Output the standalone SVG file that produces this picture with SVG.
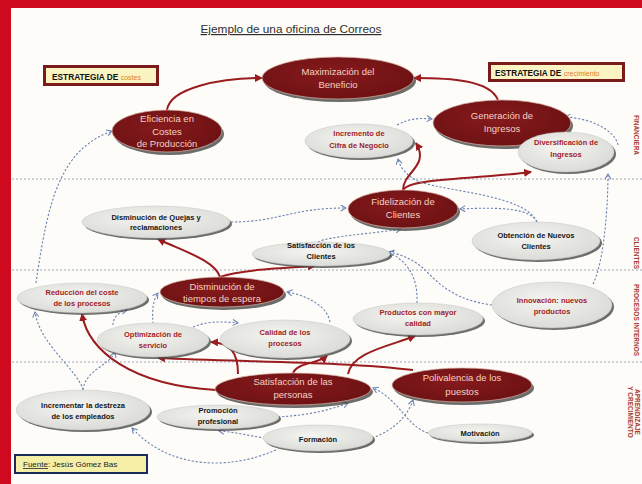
<svg xmlns="http://www.w3.org/2000/svg" width="642" height="484" viewBox="0 0 642 484">
<style>
.lbl{font-family:"Liberation Sans",Arial,sans-serif;text-anchor:middle}
.tD{font-size:9.5px;fill:#f3d2c4}
.tB{font-size:7.5px;font-weight:bold;fill:#161616}
.tR{font-size:7.5px;font-weight:bold;fill:#a2221f}
.dk{fill:url(#gDark);stroke:#d9b3a6;stroke-width:0.7}
.lt{fill:url(#gLight);stroke:#c4c4c0;stroke-width:0.5}
.sh{fill:#474747;opacity:0.8}
.sep{stroke:#9ea8b8;stroke-width:1;stroke-dasharray:2 2}
.r{fill:none;stroke:#9a1c1f;stroke-width:2;marker-end:url(#aR)}
.b{fill:none;stroke:#6b83b2;stroke-width:1.1;stroke-dasharray:2.2 1.8;marker-end:url(#aB)}
.side{font-family:"Liberation Sans",Arial,sans-serif;font-size:6.5px;font-weight:bold;fill:#a83a30;text-anchor:middle}
</style>
<defs>
<radialGradient id="gDark" cx="0.45" cy="0.4" r="0.65">
<stop offset="0" stop-color="#861a1c"/>
<stop offset="1" stop-color="#6c1113"/>
</radialGradient>
<radialGradient id="gLight" cx="0.45" cy="0.4" r="0.65">
<stop offset="0" stop-color="#f4f4f1"/>
<stop offset="1" stop-color="#d9d9d5"/>
</radialGradient>
<marker id="aR" viewBox="0 0 8 8" refX="7" refY="4" markerWidth="8" markerHeight="8" markerUnits="userSpaceOnUse" orient="auto">
<path d="M0,0 L8,4 L0,8 z" fill="#9a1c1f"/>
</marker>
<marker id="aB" viewBox="0 0 8 8" refX="7" refY="4" markerWidth="7" markerHeight="7" markerUnits="userSpaceOnUse" orient="auto">
<path d="M1,0.5 L7,4 L1,7.5" fill="none" stroke="#6b83b2" stroke-width="1.2"/>
</marker>
</defs>

<rect x="0" y="0" width="642" height="484" fill="#fdfcf8"/>
<rect x="0" y="0" width="642" height="8" fill="#cf0a1f"/>
<rect x="0" y="0" width="11" height="484" fill="#cf0a1f"/>

<g id="separators">
<line class="sep" x1="12" y1="179" x2="642" y2="179"/>
<line class="sep" x1="12" y1="270" x2="642" y2="270"/>
<line class="sep" x1="12" y1="362" x2="642" y2="362"/>
</g>

<g id="title">
<text x="291" y="33" font-family="Liberation Sans, Arial, sans-serif" font-size="11.8" fill="#2e2e2e" text-anchor="middle" text-decoration="underline">Ejemplo de una oficina de Correos</text>
</g>

<g id="perspectives">
<text class="side" transform="translate(636,135) rotate(90)" dy="2">FINANCIERA</text>
<text class="side" transform="translate(636,253) rotate(90)" dy="2">CLIENTES</text>
<text class="side" transform="translate(636,320) rotate(90)" dy="2">PROCESOS INTERNOS</text>
<text class="side" transform="translate(633,412) rotate(90)"><tspan x="0" y="-2">APRENDIZAJE</tspan><tspan x="0" y="5.5">Y CRECIMIENTO</tspan></text>
</g>

<g id="box-costes">
<rect x="43" y="65" width="116" height="21" fill="#7a1a1a"/>
<rect x="46" y="68" width="110" height="15" fill="#fbf3c2"/>
<text x="52" y="79.5" font-family="Liberation Sans, Arial, sans-serif" font-size="8.3" font-weight="bold" fill="#111">ESTRATEGIA DE <tspan font-size="7" font-weight="normal" fill="#e0801e">costes</tspan></text>
</g>
<g id="box-crecimiento">
<rect x="488" y="62" width="137" height="20" fill="#7a1a1a"/>
<rect x="491" y="65" width="131" height="14" fill="#fbf3c2"/>
<text x="495" y="75.5" font-family="Liberation Sans, Arial, sans-serif" font-size="8.3" font-weight="bold" fill="#111">ESTRATEGIA DE <tspan font-size="7" font-weight="normal" fill="#e0801e">crecimiento</tspan></text>
</g>
<g id="box-fuente">
<rect x="15" y="455" width="132" height="18" fill="#f4eea6" stroke="#1c2b5e" stroke-width="2"/>
<text x="23" y="467" font-family="Liberation Sans, Arial, sans-serif" font-size="8" fill="#222"><tspan text-decoration="underline">Fuente</tspan>: Jesús Gómez Bas</text>
</g>

<g id="connectors">
<path class="r" d="M167,110 C170,88 220,78 262,78"/>
<path class="r" d="M498,100 C490,80 450,78 414,78"/>
<path class="r" d="M403,190 C403,172 430,166 416,143"/>
<path class="r" d="M403,190 C410,178 470,180 531,172"/>
<path class="r" d="M220,277 C215,260 180,250 158,239"/>
<path class="r" d="M220,277 C240,270 280,268 315,266"/>
<path class="r" d="M238,374 C238,352 230,343 211,342"/>
<path class="r" d="M293,373 C298,362 318,364 327,356"/>
<path class="r" d="M348,374 C352,352 390,346 415,336"/>
<path class="r" d="M413,370 C350,362 250,362 158,358"/>
<path class="r" d="M216,390 C130,385 88,350 82,314"/>

<path class="b" d="M36,283 C48,200 60,150 112,131"/>
<path class="b" d="M397,125 C410,118 420,118 432,119"/>
<path class="b" d="M618,145 C615,130 590,118 565,117"/>
<path class="b" d="M593,284 C605,260 608,200 608,174"/>
<path class="b" d="M537,222 C525,195 450,192 420,182 C408,177 400,168 398,159"/>
<path class="b" d="M537,222 C530,208 500,207 460,209"/>
<path class="b" d="M231,222 C280,222 290,208 346,208"/>
<path class="b" d="M318,242 C330,236 370,234 401,229"/>
<path class="b" d="M417,303 C418,280 410,262 388,252"/>
<path class="b" d="M492,305 C455,300 440,285 425,270 C415,260 400,254 389,252"/>
<path class="b" d="M113,325 C113,318 118,312 127,310"/>
<path class="b" d="M153,324 C152,310 153,300 158,293"/>
<path class="b" d="M193,327 C210,320 225,322 238,323"/>
<path class="b" d="M330,322 C327,305 305,295 287,292"/>
<path class="b" d="M83,390 C78,370 40,345 35,312"/>
<path class="b" d="M83,390 C85,370 110,365 115,352"/>
<path class="b" d="M278,417 C310,415 330,410 348,403"/>
<path class="b" d="M265,438 C250,436 235,432 219,431"/>
<path class="b" d="M276,450 C230,470 170,470 132,428"/>
<path class="b" d="M372,438 C395,430 408,415 413,400"/>
<path class="b" d="M428,433 C405,425 400,400 373,388"/>
</g>

<g id="n-max">
<ellipse class="sh" cx="340" cy="81" rx="76" ry="21"/>
<ellipse class="dk" cx="338" cy="78" rx="76" ry="21"/>
<text class="lbl tD" x="338" y="75">Maximización del</text>
<text class="lbl tD" x="338" y="87.5">Beneficio</text>
</g>
<g id="n-eficiencia">
<ellipse class="sh" cx="169" cy="134" rx="55" ry="21"/>
<ellipse class="dk" cx="167" cy="131" rx="55" ry="21"/>
<text class="lbl tD" x="167" y="122" font-size="9">Eficiencia en</text>
<text class="lbl tD" x="167" y="134.5" font-size="9">Costes</text>
<text class="lbl tD" x="167" y="147" font-size="9">de Producción</text>
</g>
<g id="n-generacion">
<ellipse class="sh" cx="504" cy="126" rx="69" ry="23"/>
<ellipse class="dk" cx="502" cy="123" rx="69" ry="23"/>
<text class="lbl tD" x="502" y="118.5">Generación de</text>
<text class="lbl tD" x="502" y="131.5">Ingresos</text>
</g>
<g id="n-incremento">
<ellipse class="sh" cx="361" cy="143" rx="54" ry="17"/>
<ellipse class="lt" cx="359" cy="141" rx="54" ry="17"/>
<text class="lbl tR" x="359" y="136">Incremento de</text>
<text class="lbl tR" x="359" y="147.5">Cifra de Negocio</text>
</g>
<g id="n-diversificacion">
<ellipse class="sh" cx="568" cy="154" rx="48" ry="20"/>
<ellipse class="lt" cx="566" cy="152" rx="48" ry="20"/>
<text class="lbl tR" x="566" y="145">Diversificación de</text>
<text class="lbl tR" x="566" y="157">Ingresos</text>
</g>
<g id="n-fidelizacion">
<ellipse class="sh" cx="405" cy="212" rx="55" ry="19"/>
<ellipse class="dk" cx="403" cy="209" rx="55" ry="19"/>
<text class="lbl tD" x="403" y="205">Fidelización de</text>
<text class="lbl tD" x="403" y="218">Clientes</text>
</g>
<g id="n-quejas">
<ellipse class="sh" cx="158" cy="224" rx="74" ry="16"/>
<ellipse class="lt" cx="156" cy="222" rx="74" ry="16"/>
<text class="lbl tB" x="156" y="219.5">Disminución de Quejas y</text>
<text class="lbl tB" x="156" y="230">reclamaciones</text>
</g>
<g id="n-satclientes">
<ellipse class="sh" cx="323" cy="256" rx="69" ry="12"/>
<ellipse class="lt" cx="321" cy="254" rx="69" ry="12"/>
<text class="lbl tB" x="321" y="248">Satisfacción de los</text>
<text class="lbl tB" x="321" y="259">Clientes</text>
</g>
<g id="n-obtencion">
<ellipse class="sh" cx="538" cy="243" rx="64" ry="19"/>
<ellipse class="lt" cx="536" cy="241" rx="64" ry="19"/>
<text class="lbl tB" x="536" y="238">Obtención de Nuevos</text>
<text class="lbl tB" x="536" y="249">Clientes</text>
</g>
<g id="n-disminucion">
<ellipse class="sh" cx="224" cy="295" rx="62" ry="15"/>
<ellipse class="dk" cx="222" cy="292" rx="62" ry="15"/>
<text class="lbl tD" x="222" y="290">Disminución de</text>
<text class="lbl tD" x="222" y="301.5">tiempos de espera</text>
</g>
<g id="n-reduccion">
<ellipse class="sh" cx="84" cy="300" rx="65" ry="15"/>
<ellipse class="lt" cx="82" cy="298" rx="65" ry="15"/>
<text class="lbl tR" x="82" y="295">Reducción del coste</text>
<text class="lbl tR" x="82" y="305.5">de los procesos</text>
</g>
<g id="n-innovacion">
<ellipse class="sh" cx="554" cy="307" rx="60" ry="23"/>
<ellipse class="lt" cx="552" cy="305" rx="60" ry="23"/>
<text class="lbl tR" x="552" y="302.5">Innovación: nuevos</text>
<text class="lbl tR" x="552" y="313.5">productos</text>
</g>
<g id="n-productos">
<ellipse class="sh" cx="420" cy="321" rx="65" ry="16"/>
<ellipse class="lt" cx="418" cy="319" rx="65" ry="16"/>
<text class="lbl tR" x="418" y="315">Productos con mayor</text>
<text class="lbl tR" x="418" y="326">calidad</text>
</g>
<g id="n-optimizacion">
<ellipse class="sh" cx="155" cy="342" rx="56" ry="17"/>
<ellipse class="lt" cx="153" cy="340" rx="56" ry="17"/>
<text class="lbl tR" x="153" y="337">Optimización de</text>
<text class="lbl tR" x="153" y="348">servicio</text>
</g>
<g id="n-calidad">
<ellipse class="sh" cx="287" cy="341" rx="65" ry="19"/>
<ellipse class="lt" cx="285" cy="339" rx="65" ry="19"/>
<text class="lbl tR" x="285" y="334.5">Calidad de los</text>
<text class="lbl tR" x="285" y="346">procesos</text>
</g>
<g id="n-satpersonas">
<ellipse class="sh" cx="295" cy="392" rx="78" ry="16"/>
<ellipse class="dk" cx="293" cy="389" rx="78" ry="16"/>
<text class="lbl tD" x="293" y="385">Satisfacción de las</text>
<text class="lbl tD" x="293" y="398">personas</text>
</g>
<g id="n-polivalencia">
<ellipse class="sh" cx="464" cy="388" rx="70" ry="17"/>
<ellipse class="dk" cx="462" cy="385" rx="70" ry="17"/>
<text class="lbl tD" x="462" y="381">Polivalencia de los</text>
<text class="lbl tD" x="462" y="394.5">puestos</text>
</g>
<g id="n-destreza">
<ellipse class="sh" cx="85" cy="412" rx="67" ry="20"/>
<ellipse class="lt" cx="83" cy="410" rx="67" ry="20"/>
<text class="lbl tB" x="83" y="407.5">Incrementar la destreza</text>
<text class="lbl tB" x="83" y="418.5">de los empleados</text>
</g>
<g id="n-promocion">
<ellipse class="sh" cx="220" cy="419" rx="61" ry="12"/>
<ellipse class="lt" cx="218" cy="417" rx="61" ry="12"/>
<text class="lbl tB" x="218" y="412.5">Promoción</text>
<text class="lbl tB" x="218" y="424">profesional</text>
</g>
<g id="n-formacion">
<ellipse class="sh" cx="320" cy="440" rx="55" ry="13"/>
<ellipse class="lt" cx="318" cy="438" rx="55" ry="13"/>
<text class="lbl tB" x="318" y="441.5">Formación</text>
</g>
<g id="n-motivacion">
<ellipse class="sh" cx="482" cy="435" rx="52" ry="9"/>
<ellipse class="lt" cx="480" cy="433" rx="52" ry="9"/>
<text class="lbl tB" x="480" y="436">Motivación</text>
</g>
</svg>
